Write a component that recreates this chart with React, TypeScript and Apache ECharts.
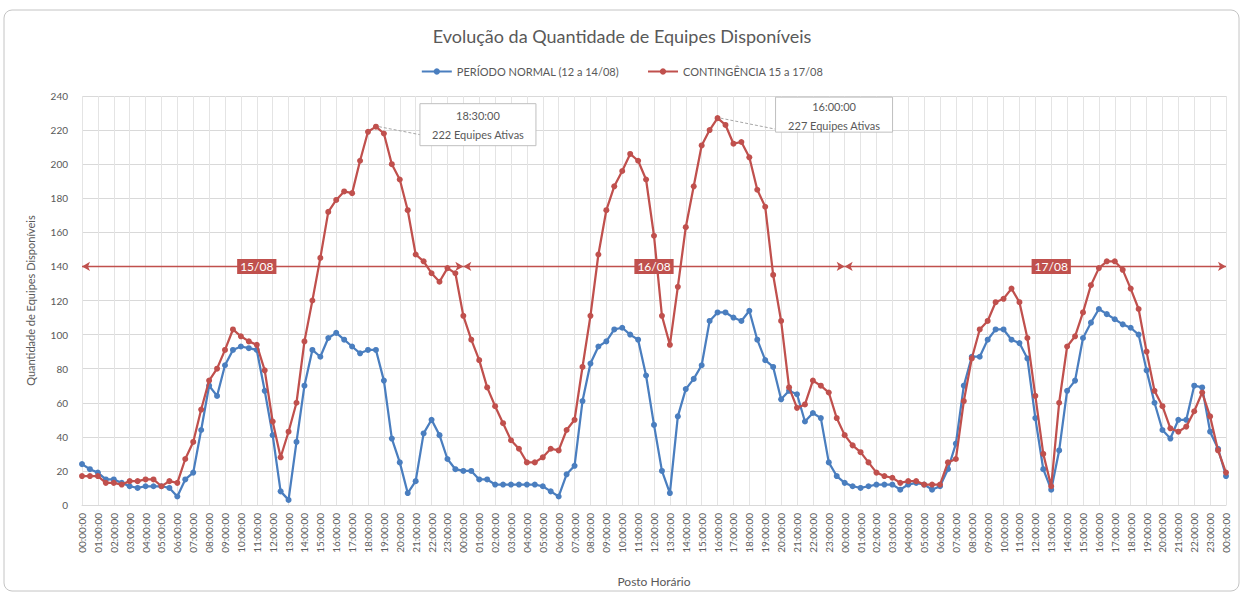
import React, { useEffect, useRef } from "react";
import * as echarts from "echarts";

const TITLE = "Evolução da Quantidade de Equipes Disponíveis";
const SERIES_NAMES = ["PERÍODO NORMAL (12 a 14/08)", "CONTINGÊNCIA 15 a 17/08"];
const Y_AXIS_NAME = "Quantidade de Equipes Disponíveis";
const X_AXIS_NAME = "Posto Horário";

const HOURS = ["00","01","02","03","04","05","06","07","08","09","10","11","12","13","14","15","16","17","18","19","20","21","22","23"];
const MINUTES = ["00", "30"];
const DAYS_COUNT = 3;
const categories: string[] = [];
for (let d = 0; d < DAYS_COUNT; d++) {
  for (const h of HOURS) for (const m of MINUTES) categories.push(`${h}:${m}:00`);
}
categories.push("00:00:00");

const normalValues = [
  24, 21, 19, 15, 15, 13, 11, 10, 11, 11, 11, 10,
  5, 15, 19, 44, 70, 64, 82, 91, 93, 92, 91, 67,
  41, 8, 3, 37, 70, 91, 87, 98, 101, 97, 93, 89,
  91, 91, 73, 39, 25, 7, 14, 42, 50, 41, 27, 21,
  20, 20, 15, 15, 12, 12, 12, 12, 12, 12, 11, 8,
  5, 18, 23, 61, 83, 93, 96, 103, 104, 100, 97, 76,
  47, 20, 7, 52, 68, 74, 82, 108, 113, 113, 110, 108,
  114, 97, 85, 81, 62, 67, 65, 49, 54, 51, 25, 17,
  13, 11, 10, 11, 12, 12, 12, 9, 12, 13, 12, 9,
  11, 21, 36, 70, 87, 87, 97, 103, 103, 97, 95, 86,
  51, 21, 9, 32, 67, 73, 98, 107, 115, 112, 109, 106,
  104, 100, 79, 60, 44, 39, 50, 50, 70, 69, 43, 33,
  17,
];

const contingencyValues = [
  17, 17, 17, 13, 13, 12, 14, 14, 15, 15, 11, 14,
  13, 27, 37, 56, 73, 80, 91, 103, 99, 96, 94, 79,
  49, 28, 43, 60, 96, 120, 145, 172, 179, 184, 183, 202,
  219, 222, 218, 200, 191, 173, 147, 143, 136, 131, 139, 136,
  111, 97, 85, 69, 58, 48, 38, 33, 25, 25, 28, 33,
  32, 44, 50, 81, 111, 147, 173, 187, 196, 206, 202, 191,
  158, 111, 94, 128, 163, 187, 211, 220, 227, 223, 212, 213,
  204, 185, 175, 135, 108, 69, 57, 59, 73, 70, 66, 51,
  41, 35, 31, 25, 19, 17, 16, 13, 14, 14, 12, 12,
  12, 25, 27, 61, 86, 103, 108, 119, 121, 127, 119, 98,
  64, 30, 11, 60, 93, 99, 113, 129, 139, 143, 143, 138,
  127, 115, 90, 67, 58, 45, 43, 46, 55, 66, 52, 32,
  19,
];

const DAY_LABELS = ["15/08", "16/08", "17/08"];
const DAY_STARTS = [0, 48, 96];
const DAY_ENDS = [48, 96, 144];
const DAY_LABEL_AT = [22, 72, 122];
const DAY_BAND_VALUE = 140;

const PEAK_INDEX = [37, 80];
const PEAK_TIME = ["18:30:00", "16:00:00"];
const PEAK_TEXT = ["222 Equipes Ativas", "227 Equipes Ativas"];

const Y_MIN = 0;
const Y_MAX = 240;
const Y_STEP = 20;

const BLUE = "#4a7ebf";
const RED = "#c0504d";
const GRAY_TEXT = "#595959";
const FONT = "Lato, 'Open Sans', sans-serif";

export default function App() {
  const ref = useRef<HTMLDivElement>(null);

  useEffect(() => {
    document.body.style.margin = "0";
    if (!ref.current) return;
    const chart = echarts.init(ref.current, undefined, { renderer: "svg" });

    const dayLines = DAY_LABELS.map((_, k) => [
      { coord: [DAY_STARTS[k], DAY_BAND_VALUE] },
      { coord: [DAY_ENDS[k], DAY_BAND_VALUE] },
    ]);
    const dayPoints = DAY_LABELS.map((lbl, k) => ({
      coord: [DAY_LABEL_AT[k], DAY_BAND_VALUE],
      value: lbl,
    }));

    chart.setOption({
      animation: false,
      backgroundColor: "#ffffff",
      textStyle: { fontFamily: FONT },
      title: {
        text: TITLE,
        left: "center",
        top: 22,
        textStyle: { fontSize: 18, fontWeight: "normal", color: GRAY_TEXT, fontFamily: FONT },
      },
      legend: {
        top: 61,
        left: "center",
        itemWidth: 30,
        itemHeight: 8,
        itemGap: 28,
        textStyle: { fontSize: 11, color: GRAY_TEXT, fontFamily: FONT },
        data: SERIES_NAMES,
      },
      grid: { left: 82, right: 18, top: 96, bottom: 89, containLabel: false },
      xAxis: {
        type: "category",
        data: categories,
        boundaryGap: false,
        name: X_AXIS_NAME,
        nameLocation: "middle",
        nameGap: 70,
        nameTextStyle: { fontSize: 12, color: GRAY_TEXT },
        axisLine: { show: true, lineStyle: { color: "#d9d9d9" } },
        axisTick: { show: false },
        axisLabel: { interval: 1, rotate: 90, fontSize: 10, color: GRAY_TEXT, margin: 8 },
        splitLine: { show: true, interval: 1, lineStyle: { color: "#e4e4e4", width: 1 } },
      },
      yAxis: {
        type: "value",
        min: Y_MIN,
        max: Y_MAX,
        interval: Y_STEP,
        name: Y_AXIS_NAME,
        nameLocation: "middle",
        nameGap: 46,
        nameTextStyle: { fontSize: 11, color: GRAY_TEXT },
        axisLine: { show: false },
        axisTick: { show: false },
        axisLabel: { fontSize: 10, color: GRAY_TEXT, margin: 14 },
        splitLine: { lineStyle: { color: "#d9d9d9" } },
      },
      series: [
        {
          name: SERIES_NAMES[0],
          type: "line",
          data: normalValues,
          symbol: "circle",
          symbolSize: 6,
          showAllSymbol: true,
          itemStyle: { color: BLUE },
          lineStyle: { color: BLUE, width: 2.25 },
          z: 3,
        },
        {
          name: SERIES_NAMES[1],
          type: "line",
          data: contingencyValues,
          symbol: "circle",
          symbolSize: 6,
          showAllSymbol: true,
          itemStyle: { color: RED },
          lineStyle: { color: RED, width: 2.25 },
          z: 4,
          markLine: {
            silent: true,
            symbol: ["arrow", "arrow"],
            symbolSize: [7, 8],
            label: { show: false },
            lineStyle: { color: RED, width: 1.3, type: "solid" },
            data: dayLines,
          },
          markPoint: {
            silent: true,
            symbol: "rect",
            symbolSize: 0,
            label: {
              show: true,
              position: "inside",
              formatter: (p: any) => p.value,
              color: "#ffffff",
              fontSize: 12,
              backgroundColor: RED,
              padding: [2, 3, 1, 3],
            },
            data: dayPoints,
          },
        },
      ],
    });

    const graphics: any[] = [
      {
        type: "rect",
        shape: { x: 4, y: 10, width: 1235, height: 581, r: 8 },
        style: { fill: "none", stroke: "#c4c4c4", lineWidth: 1 },
        silent: true,
        z: 0,
      },
    ];
    const boxCfg = [
      { dx: 44, dy: -23, w: 116, h: 42, ly: 8, t1: 12, t2: 31 },
      { dx: 58, dy: -21, w: 117, h: 35, ly: 11, t1: 9, t2: 28 },
    ];
    PEAK_INDEX.forEach((idx, k) => {
      const p = chart.convertToPixel({ seriesIndex: 1 }, [idx, contingencyValues[idx]]) as number[];
      const c = boxCfg[k];
      const bx = p[0] + c.dx;
      const by = p[1] + c.dy;
      graphics.push({
        type: "line",
        shape: { x1: p[0] + 3, y1: p[1], x2: bx, y2: p[1] + c.ly },
        style: { stroke: "#a6a6a6", lineWidth: 1, lineDash: [3, 2] },
        silent: true,
        z: 10,
      });
      graphics.push({
        type: "rect",
        shape: { x: bx, y: by, width: c.w, height: c.h },
        style: { fill: "#ffffff", stroke: "#bfbfbf", lineWidth: 1 },
        silent: true,
        z: 10,
      });
      graphics.push({
        type: "text",
        x: bx + c.w / 2,
        y: by + c.t1,
        style: { text: PEAK_TIME[k], fill: GRAY_TEXT, fontSize: 11, fontFamily: FONT, align: "center", verticalAlign: "middle" },
        silent: true,
        z: 11,
      });
      graphics.push({
        type: "text",
        x: bx + c.w / 2,
        y: by + c.t2,
        style: { text: PEAK_TEXT[k], fill: GRAY_TEXT, fontSize: 11, fontFamily: FONT, align: "center", verticalAlign: "middle" },
        silent: true,
        z: 11,
      });
    });
    chart.setOption({ graphic: graphics });

    return () => chart.dispose();
  }, []);

  return <div ref={ref} style={{ width: 1244, height: 594 }} />;
}
